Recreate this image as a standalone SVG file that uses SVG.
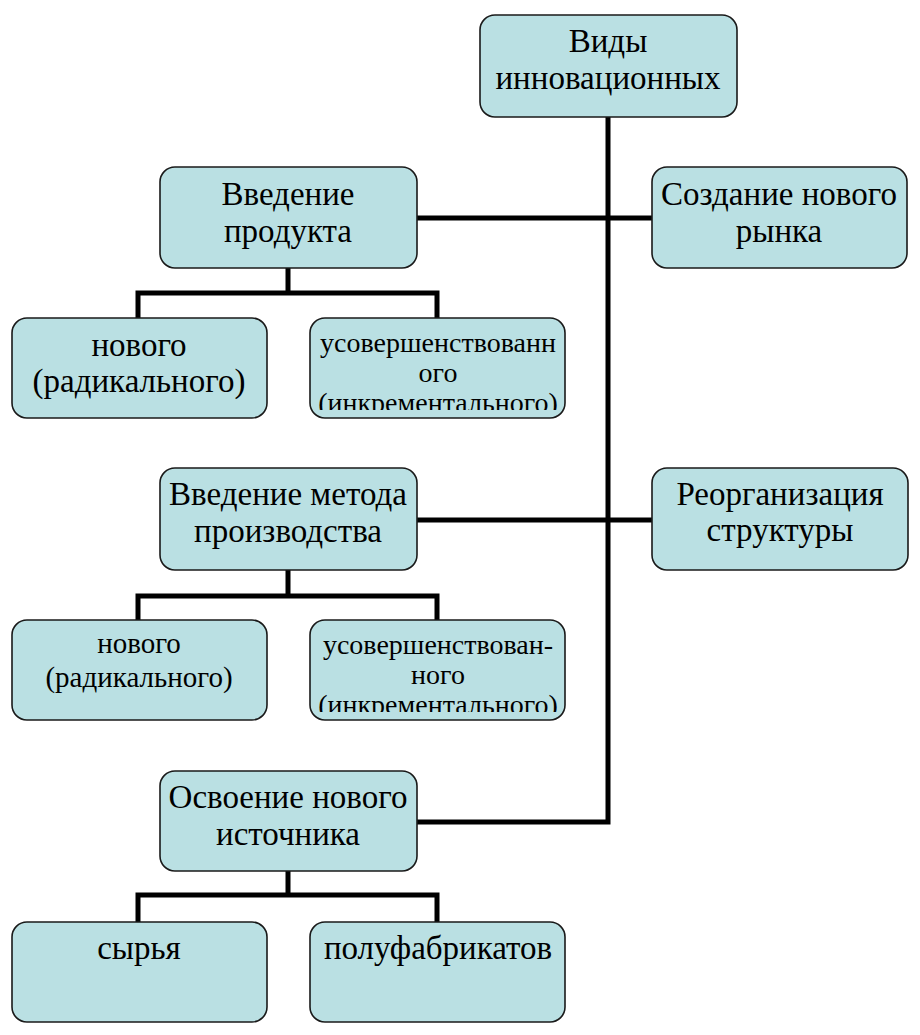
<svg xmlns="http://www.w3.org/2000/svg" width="920" height="1035" viewBox="0 0 920 1035">
<defs>
<clipPath id="clipA"><rect x="312" y="320" width="251" height="90"/></clipPath>
<clipPath id="clipB"><rect x="312" y="622" width="251" height="90"/></clipPath>
</defs>
<rect width="920" height="1035" fill="#fff"/>
<g id="connectors" fill="none" stroke="#000" stroke-width="5">
<path d="M608 117 V822 H417"/>
<path d="M417 218 H652"/>
<path d="M417 520 H652"/>
<path d="M288 268 V293 M138 318 V293 H437 V318"/>
<path d="M288 570 V596 M138 620 V596 H437 V620"/>
<path d="M288 871 V895 M138 922 V895 H437 V922"/>
</g>
<g id="nodes" fill="#bae0e3" stroke="#1a1a1a" stroke-width="1.6">
<g id="root"><rect x="480" y="15" width="257" height="102" rx="15"/></g>
<g id="product"><rect x="160" y="167" width="257" height="101" rx="15"/></g>
<g id="market"><rect x="652" y="167" width="255" height="101" rx="15"/></g>
<g id="product-new"><rect x="12" y="318" width="255" height="100" rx="15"/></g>
<g id="product-improved"><rect x="310" y="318" width="255" height="100" rx="15"/></g>
<g id="method"><rect x="160" y="468" width="257" height="102" rx="15"/></g>
<g id="structure"><rect x="652" y="468" width="256" height="102" rx="15"/></g>
<g id="method-new"><rect x="12" y="620" width="255" height="100" rx="15"/></g>
<g id="method-improved"><rect x="310" y="620" width="255" height="100" rx="15"/></g>
<g id="source"><rect x="160" y="771" width="257" height="100" rx="15"/></g>
<g id="raw"><rect x="12" y="922" width="255" height="100" rx="15"/></g>
<g id="semi"><rect x="310" y="922" width="255" height="100" rx="15"/></g>
</g>
<g id="labels" fill="#000" text-anchor="middle">
<text font-family="Liberation Serif" font-size="33" x="608" y="52">Виды</text>
<text font-family="Liberation Serif" font-size="33" x="608" y="89">инновационных</text>
<text font-family="Liberation Serif" font-size="33" x="288" y="205">Введение</text>
<text font-family="Liberation Serif" font-size="33" x="288" y="242">продукта</text>
<text font-family="Liberation Serif" font-size="33" x="779" y="205">Создание нового</text>
<text font-family="Liberation Serif" font-size="33" x="779" y="242">рынка</text>
<text font-family="Liberation Serif" font-size="33" x="139" y="356">нового</text>
<text font-family="Liberation Serif" font-size="33" x="139" y="392">(радикального)</text>
<g clip-path="url(#clipA)">
<text font-family="Liberation Serif" font-size="28" x="438" y="352">усовершенствованн</text>
<text font-family="Liberation Serif" font-size="28" x="438" y="382">ого</text>
<text font-family="Liberation Serif" font-size="28" x="438" y="412">(инкрементального)</text>
</g>
<text font-family="Liberation Serif" font-size="33" x="288" y="505">Введение метода</text>
<text font-family="Liberation Serif" font-size="33" x="288" y="542">производства</text>
<text font-family="Liberation Serif" font-size="33" x="780" y="505">Реорганизация</text>
<text font-family="Liberation Serif" font-size="33" x="780" y="541">структуры</text>
<text font-family="Liberation Serif" font-size="29" x="139" y="653">нового</text>
<text font-family="Liberation Serif" font-size="29" x="139" y="687">(радикального)</text>
<g clip-path="url(#clipB)">
<text font-family="Liberation Serif" font-size="28" x="438" y="654">усовершенствован-</text>
<text font-family="Liberation Serif" font-size="28" x="438" y="684">ного</text>
<text font-family="Liberation Serif" font-size="28" x="438" y="714">(инкрементального)</text>
</g>
<text font-family="Liberation Serif" font-size="33" x="288" y="808">Освоение нового</text>
<text font-family="Liberation Serif" font-size="33" x="288" y="845">источника</text>
<text font-family="Liberation Serif" font-size="33" x="139" y="959">сырья</text>
<text font-family="Liberation Serif" font-size="33" x="438" y="959">полуфабрикатов</text>
</g>
</svg>
